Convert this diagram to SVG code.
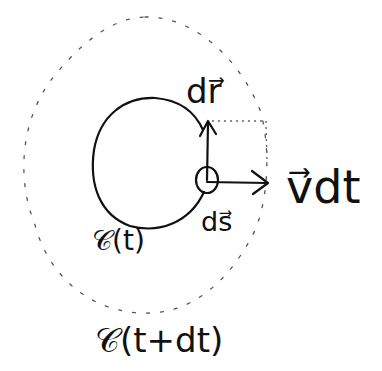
<svg xmlns="http://www.w3.org/2000/svg" width="382" height="371" viewBox="0 0 382 371">
<style>
.solid{fill:none;stroke:#111;stroke-width:2.2;stroke-linecap:round;stroke-linejoin:round}
.outer{fill:none;stroke:#555;stroke-width:1.3;stroke-dasharray:3 11;stroke-linecap:round}
.dot{fill:none;stroke:#666;stroke-width:1.4;stroke-dasharray:2 4}
.lbl{font-family:"DejaVu Sans","Liberation Sans",sans-serif;fill:#111}
</style>
<rect width="382" height="371" fill="#fff"/>
<g id="curve-outer">
<path class="outer" d="M 145,17 C 195,16 240,60 260,110 C 272,150 268,210 250,240 C 225,285 190,312 150,313 C 95,315 50,280 35,225 C 15,175 22,115 55,75 C 80,45 110,18 145,17 Z"/>
<text class="lbl" x="95" y="352" font-size="34">𝒞(t+dt)</text>
</g>
<g id="curve-inner">
<path class="solid" d="M 203,130 C 195,112 180,100 155,98 C 125,97 100,115 94,150 C 89,185 100,215 130,226 C 160,234 190,222 204,192"/>
<text class="lbl" x="92" y="250" font-size="28">𝒞(t)</text>
</g>
<g id="element-ds">
<ellipse class="solid" cx="207" cy="180" rx="11" ry="13"/>
<text class="lbl" x="201" y="231" font-size="27">ds⃗</text>
</g>
<g id="connectors">
<path class="dot" d="M 212,121 L 266,121 L 267,162"/>
<line class="solid" x1="207" y1="180" x2="208" y2="123" stroke-width="3.2"/>
<path class="solid" d="M 200,136 L 208,121 L 216,134"/>
<line class="solid" x1="207" y1="182" x2="267" y2="183" stroke-width="1.8"/>
<path class="solid" d="M 252,171 L 268,183 L 253,194"/>
</g>
<g id="label-dr">
<text class="lbl" x="186" y="103" font-size="34">dr⃗</text>
</g>
<g id="label-vdt">
<text class="lbl" x="286" y="203" font-size="46">v⃗dt</text>
</g>
</svg>
